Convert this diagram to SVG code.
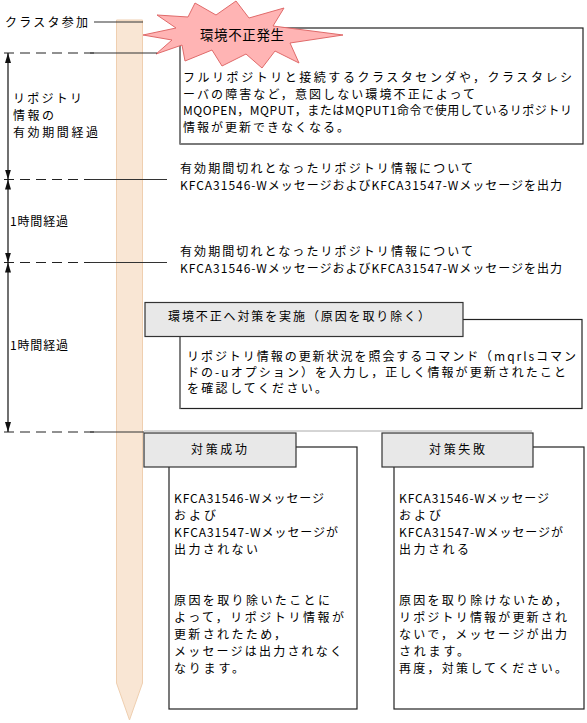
<svg xmlns="http://www.w3.org/2000/svg" width="587" height="723" viewBox="0 0 587 723">
<defs>
<style>
text{font-family:"Noto Sans CJK JP","Noto Sans",sans-serif;font-size:12px;fill:#000}
.big{font-size:13.5px}
.dash{stroke:#222;stroke-width:1.2;stroke-dasharray:10,6;fill:none}
.sol{stroke:#333;stroke-width:1.2;fill:none}
.box{fill:#fff;stroke:#222;stroke-width:1.2}
.gbox{fill:#e8e8e8;stroke:#333;stroke-width:1.2}
.edge{stroke:#808080;stroke-width:2}
.arr{stroke:#111;stroke-width:1.2;marker-start:url(#ah);marker-end:url(#ah)}
</style>
<marker id="ah" viewBox="0 0 10 6" refX="10" refY="3" markerWidth="10" markerHeight="6" markerUnits="userSpaceOnUse" orient="auto-start-reverse">
<path d="M0,0 L10,3 L0,6 Z" fill="#111"/>
</marker>
</defs>
<rect width="587" height="723" fill="#fff"/>

<g id="timeline">
<path d="M116.5,20 H142.5 V683 L129.5,720 L116.5,683 Z" fill="#f9e6d4" stroke="#efcfb0" stroke-width="1"/>
<text x="5" y="27" textLength="83">クラスタ参加</text>
</g>

<g id="box-env">
<rect class="box" x="180" y="28" width="403" height="116"/>
<line class="edge" x1="180" y1="29" x2="180" y2="144"/>
<text x="183" y="82" textLength="389">フルリポジトリと接続するクラスタセンダや，クラスタレシ</text>
<text x="183" y="99" textLength="292">ーバの障害など，意図しない環境不正によって</text>
<text x="183" y="115" textLength="389">MQOPEN，MQPUT，またはMQPUT1命令で使用しているリポジトリ</text>
<text x="183" y="132" textLength="166">情報が更新できなくなる。</text>
</g>

<g id="burst">
<polygon points="143,35 176,28 157,15 188,17 195,3 216,15 236,1 249,18 284,8 273,26 343,35 290,43 299,63 275,51 262,68 246,54 222,66 212,50 185,61 182,45 156,54 172,40" fill="#ffb4b4" stroke="#e06a6a" stroke-width="1"/>
<text class="big" x="200" y="40" textLength="84">環境不正発生</text>
</g>

<g id="msg1">
<text x="180" y="173" textLength="293">有効期間切れとなったリポジトリ情報について</text>
<text x="180" y="190" textLength="382">KFCA31546-WメッセージおよびKFCA31547-Wメッセージを出力</text>
</g>
<g id="msg2">
<text x="180" y="256" textLength="293">有効期間切れとなったリポジトリ情報について</text>
<text x="180" y="273" textLength="382">KFCA31546-WメッセージおよびKFCA31547-Wメッセージを出力</text>
</g>

<g id="labels">
<text x="13" y="103" textLength="69">リポジトリ</text>
<text x="13" y="120" textLength="41">情報の</text>
<text x="13" y="137" textLength="85">有効期間経過</text>
<text x="10" y="226" textLength="58">1時間経過</text>
<text x="10" y="350" textLength="58">1時間経過</text>
</g>

<g id="action">
<rect class="box" x="180" y="319.5" width="402" height="89"/>
<line class="edge" x1="180" y1="336" x2="180" y2="408.5"/>
<rect class="gbox" x="145" y="302.5" width="318" height="34"/>
<text x="168" y="321" textLength="262">環境不正へ対策を実施（原因を取り除く）</text>
<text x="187" y="361" textLength="389">リポジトリ情報の更新状況を照会するコマンド（mqrlsコマン</text>
<text x="187" y="377" textLength="379">ドの-uオプション）を入力し，正しく情報が更新されたこと</text>
<text x="187" y="393" textLength="140">を確認してください。</text>
</g>

<g id="connectors">
<line class="sol" x1="94" y1="22" x2="143" y2="22"/>
<line class="dash" x1="4" y1="53" x2="96" y2="53"/>
<line class="sol" x1="90" y1="53" x2="157" y2="53"/>
<line class="dash" x1="4" y1="179.5" x2="96" y2="179.5"/>
<line class="sol" x1="90" y1="179.5" x2="167" y2="179.5"/>
<line class="dash" x1="4" y1="262.5" x2="96" y2="262.5"/>
<line class="sol" x1="90" y1="262.5" x2="167" y2="262.5"/>
<line class="dash" x1="4" y1="432" x2="96" y2="432"/>
<line class="sol" x1="90" y1="432" x2="144" y2="432"/>
<line x1="144" y1="431" x2="532" y2="431" stroke="#aaa" stroke-width="1"/>
<line class="arr" x1="8" y1="53" x2="8" y2="179.5"/>
<line class="arr" x1="8" y1="179.5" x2="8" y2="262.5"/>
<line class="arr" x1="8" y1="262.5" x2="8" y2="432"/>
</g>

<g id="success">
<rect class="box" x="169" y="447" width="188" height="262"/>
<rect class="gbox" x="144" y="433" width="152" height="34"/>
<text x="219" y="454" text-anchor="middle" textLength="56">対策成功</text>
<text x="174" y="503" textLength="150">KFCA31546-Wメッセージ</text>
<text x="174" y="520" textLength="42">および</text>
<text x="174" y="537" textLength="164">KFCA31547-Wメッセージが</text>
<text x="174" y="554" textLength="84">出力されない</text>
<text x="174" y="605" textLength="156">原因を取り除いたことに</text>
<text x="174" y="622" textLength="170">よって，リポジトリ情報が</text>
<text x="174" y="639" textLength="112">更新されたため，</text>
<text x="174" y="656" textLength="168">メッセージは出力されなく</text>
<text x="174" y="673" textLength="70">なります。</text>
</g>

<g id="failure">
<rect class="box" x="394" y="447" width="190" height="262"/>
<rect class="gbox" x="382" y="433" width="151" height="34"/>
<text x="457" y="454" text-anchor="middle" textLength="56">対策失敗</text>
<text x="399" y="503" textLength="150">KFCA31546-Wメッセージ</text>
<text x="399" y="520" textLength="42">および</text>
<text x="399" y="537" textLength="164">KFCA31547-Wメッセージが</text>
<text x="399" y="554" textLength="70">出力される</text>
<text x="399" y="605" textLength="168">原因を取り除けないため，</text>
<text x="399" y="622" textLength="168">リポジトリ情報が更新され</text>
<text x="399" y="639" textLength="168">ないで，メッセージが出力</text>
<text x="399" y="656" textLength="70">されます。</text>
<text x="399" y="673" textLength="168">再度，対策してください。</text>
</g>
</svg>
